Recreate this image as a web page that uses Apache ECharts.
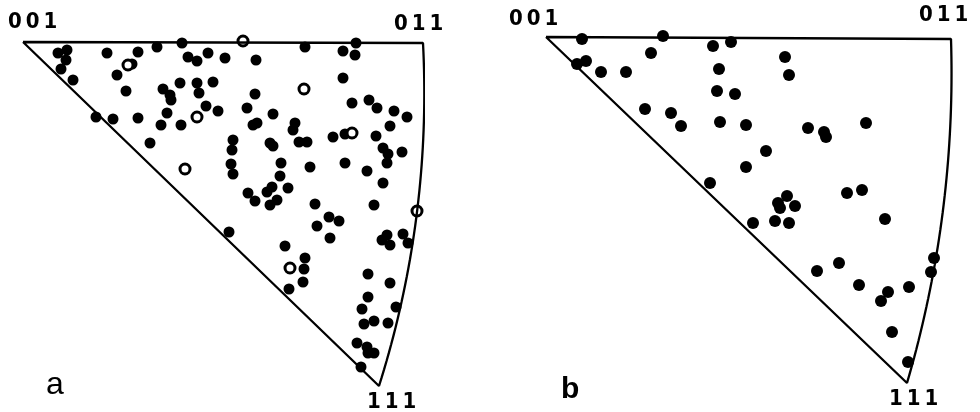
<!DOCTYPE html>
<html>
<head>
<meta charset="utf-8">
<script src="https://cdn.jsdelivr.net/npm/echarts@6/dist/echarts.min.js"></script>
<style>
  html, body { margin: 0; padding: 0; background: #fff; }
  #chart { width: 980px; height: 412px; }
</style>
</head>
<body>
<div id="chart"></div>
<script>
// stereographic positions inside each unit triangle, measured from the 001 corner (1 unit ~ 1 px)
const cornersA = [[0, 0], [400, 1], [356, 344]] // 001, 011, 111
const arcMidA = [394, 170]
const cornersB = [[0, 0], [405, 2], [361, 346]]
const arcMidB = [397, 173]

const vertexNames = ['001', '011', '111']
const panelNames = ['a', 'b']

// a: filled dots
const pointsA = [
  [35, 11], [44, 8], [43, 18], [38, 27], [50, 38], [84, 11], [115, 10], [134, 5],
  [159, 1], [165, 15], [174, 19], [185, 11], [202, 16], [109, 22], [94, 33], [103, 49],
  [140, 47], [147, 53], [148, 58], [144, 71], [157, 41], [174, 41], [176, 51], [190, 40],
  [183, 64], [195, 69], [73, 75], [90, 77], [115, 76], [138, 83], [158, 83], [127, 101],
  [282, 5], [333, 1], [320, 9], [332, 13], [233, 18], [232, 52], [320, 36], [329, 61],
  [346, 58], [354, 66], [371, 69], [384, 75], [367, 84], [224, 66], [250, 72], [230, 83],
  [234, 81], [272, 81], [270, 88], [210, 98], [209, 108], [247, 101], [250, 104], [276, 100],
  [284, 100], [310, 95], [322, 92], [353, 94], [360, 106], [365, 112], [364, 121], [379, 110],
  [208, 122], [210, 132], [258, 121], [257, 134], [287, 125], [322, 121], [344, 129], [360, 141],
  [225, 151], [232, 159], [244, 150], [249, 145], [254, 158], [247, 163], [265, 146], [292, 162],
  [351, 163], [206, 190], [306, 175], [316, 179], [294, 184], [307, 196], [359, 198], [364, 193],
  [367, 203], [380, 192], [385, 201], [262, 204], [282, 216], [281, 227], [266, 247], [280, 240],
  [345, 232], [367, 241], [345, 255], [339, 267], [373, 265], [341, 282], [351, 279], [365, 281],
  [334, 301], [344, 305], [345, 311], [351, 311], [338, 325]
]
// a: open dots
const openA = [[105, 23], [174, 75], [162, 127], [220, -1], [281, 47], [329, 91], [394, 169], [267, 226]]

// b: filled dots
const pointsB = [
  [36, 2], [117, -1], [167, 9], [185, 5], [105, 16], [40, 24], [31, 27], [55, 35],
  [80, 35], [173, 32], [171, 54], [189, 57], [99, 72], [125, 76], [135, 89], [174, 85],
  [200, 88], [200, 130], [164, 146], [239, 20], [243, 38], [262, 91], [278, 95], [280, 100],
  [320, 86], [220, 114], [301, 156], [316, 153], [241, 159], [232, 166], [234, 171], [249, 169],
  [229, 184], [243, 186], [207, 186], [339, 182], [388, 221], [385, 235], [271, 234], [293, 226],
  [313, 248], [342, 255], [335, 264], [363, 250], [346, 295], [362, 325]
]

// 001 -> 011 -> arc -> 111 -> 001
function outline (corners, mid) {
  const [p1, p3] = [corners[1], corners[2]]
  const [ax, ay] = p1
  const [bx, by] = mid
  const [cx, cy] = p3
  const d = 2 * (ax * (by - cy) + bx * (cy - ay) + cx * (ay - by))
  const s1 = ax * ax + ay * ay
  const s2 = bx * bx + by * by
  const s3 = cx * cx + cy * cy
  const ux = (s1 * (by - cy) + s2 * (cy - ay) + s3 * (ay - by)) / d
  const uy = (s1 * (cx - bx) + s2 * (ax - cx) + s3 * (bx - ax)) / d
  const r = Math.hypot(ax - ux, ay - uy)
  const a1 = Math.atan2(ay - uy, ax - ux)
  const a3 = Math.atan2(cy - uy, cx - ux)
  const pts = [corners[0]]
  for (let i = 0; i <= 40; i++) {
    const t = a1 + (a3 - a1) * i / 40
    pts.push([ux + r * Math.cos(t), uy + r * Math.sin(t)])
  }
  pts.push(corners[0])
  return pts
}

const labelFont = 'Liberation Sans, Arial, sans-serif'
const digitFont = '"DejaVu Sans Condensed", "Liberation Sans", sans-serif'
// thin spaces between digits, the figure sets them loosely
function vertexTitle (txt, left, top) {
  return {
    text: txt.split('').join('\u2009'),
    left: left,
    top: top,
    padding: 0,
    textStyle: { fontSize: 22, fontWeight: 'bold', fontFamily: digitFont, color: '#000' }
  }
}

const chart = echarts.init(document.getElementById('chart'))

const axisOff = { show: false, splitLine: { show: false } }
const edge = { color: '#000', width: 2.3 }

chart.setOption({
  backgroundColor: '#fff',
  animation: false,
  title: [
    vertexTitle(vertexNames[0], 8, 11),
    vertexTitle(vertexNames[1], 394, 13),
    vertexTitle(vertexNames[2], 367, 391),
    vertexTitle(vertexNames[0], 509, 8),
    vertexTitle(vertexNames[1], 919, 4),
    vertexTitle(vertexNames[2], 889, 388),
    { text: panelNames[0], left: 46, top: 369, padding: 0, textStyle: { fontSize: 32, fontWeight: 'normal', fontFamily: labelFont, color: '#000' } },
    { text: panelNames[1], left: 561, top: 375, padding: 0, textStyle: { fontSize: 30, fontWeight: 'bold', fontFamily: labelFont, color: '#000' } }
  ],
  grid: [
    { left: 23, top: 42, width: 400, height: 344 },
    { left: 546, top: 37, width: 405, height: 345 }
  ],
  xAxis: [
    Object.assign({ type: 'value', gridIndex: 0, min: 0, max: 400 }, axisOff),
    Object.assign({ type: 'value', gridIndex: 1, min: 0, max: 405 }, axisOff)
  ],
  yAxis: [
    Object.assign({ type: 'value', gridIndex: 0, min: 0, max: 344, inverse: true }, axisOff),
    Object.assign({ type: 'value', gridIndex: 1, min: 0, max: 345, inverse: true }, axisOff)
  ],
  series: [
    {
      type: 'line', xAxisIndex: 0, yAxisIndex: 0, data: outline(cornersA, arcMidA),
      symbol: 'none', clip: false, silent: true, lineStyle: edge
    },
    {
      type: 'line', xAxisIndex: 1, yAxisIndex: 1, data: outline(cornersB, arcMidB),
      symbol: 'none', clip: false, silent: true, lineStyle: edge
    },
    {
      type: 'scatter', xAxisIndex: 0, yAxisIndex: 0, data: pointsA,
      symbolSize: 11, clip: false, itemStyle: { color: '#000', opacity: 1 }
    },
    {
      type: 'scatter', xAxisIndex: 0, yAxisIndex: 0, data: openA,
      symbolSize: 10, clip: false, itemStyle: { color: '#fff', borderColor: '#000', borderWidth: 3, opacity: 1 }
    },
    {
      type: 'scatter', xAxisIndex: 1, yAxisIndex: 1, data: pointsB,
      symbolSize: 12, clip: false, itemStyle: { color: '#000', opacity: 1 }
    }
  ]
})
</script>
</body>
</html>
